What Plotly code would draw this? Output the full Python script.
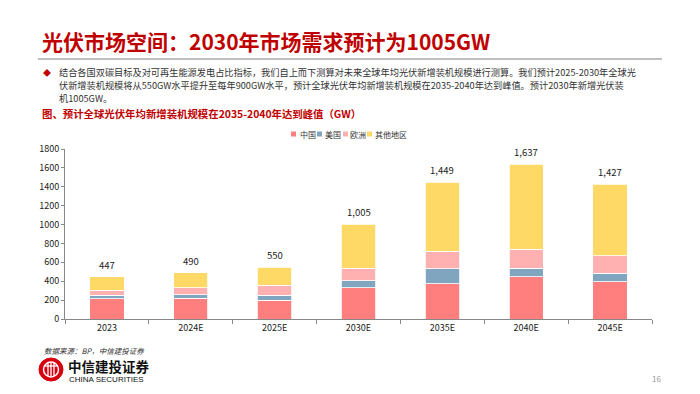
import plotly.graph_objects as go

categories = ["2023", "2024E", "2025E", "2030E", "2035E", "2040E", "2045E"]
china = [212, 220, 200, 330, 375, 450, 395]
usa = [42, 39, 54, 75, 155, 90, 90]
europe = [53, 74, 106, 130, 190, 200, 185]
others = [140, 157, 190, 470, 729, 897, 757]
totals = [447, 490, 550, 1005, 1449, 1637, 1427]
series_names = ["中国", "美国", "欧洲", "其他地区"]
colors = ["#FF7F7F", "#7FA5BF", "#FFB0B0", "#FFD966"]

FONT = "Noto Sans CJK SC"
W, H = 700, 394
L, R, T, B = 65, 48, 149, 75
PW, PH = W - L - R, H - T - B


def px(x):
    return (x - L) / PW


def py(y):
    return (H - B - y) / PH


fig = go.Figure()
for name, vals, col in zip(series_names, [china, usa, europe, others], colors):
    fig.add_trace(go.Bar(
        x=categories, y=vals, name=name, showlegend=False,
        marker=dict(color=col, line=dict(color="white", width=0.8)),
    ))

ann = []
shapes = []

# total labels above bars
for i, v in enumerate(totals):
    ann.append(dict(text=f"{v:,}", x=i, y=v, xref="x", yref="y",
                    xanchor="center", yanchor="bottom", yshift=3, showarrow=False,
                    font=dict(size=9.5, color="#222", family=FONT)))

# Title
ann.append(dict(text="<b>光伏市场空间：2030年市场需求预计为1005GW</b>",
                x=px(40), y=py(41), xref="paper", yref="paper",
                xanchor="left", yanchor="middle", showarrow=False,
                font=dict(size=21, color="#C00000", family=FONT)))
# separator
shapes.append(dict(type="line", xref="paper", yref="paper",
                   x0=px(38), x1=px(662), y0=py(59), y1=py(59),
                   line=dict(color="#BFBFBF", width=2)))
# bullet
ann.append(dict(text="◆", x=px(47), y=py(72), xref="paper", yref="paper",
                xanchor="center", yanchor="middle", showarrow=False,
                font=dict(size=8, color="#C00000", family=FONT)))
lines = [
    "结合各国双碳目标及对可再生能源发电占比指标，我们自上而下测算对未来全球年均光伏新增装机规模进行测算。我们预计2025-2030年全球光",
    "伏新增装机规模将从550GW水平提升至每年900GW水平，预计全球光伏年均新增装机规模在2035-2040年达到峰值。预计2030年新增光伏装",
    "机1005GW。",
]
for i, ln in enumerate(lines):
    ann.append(dict(text=ln, x=px(57), y=py(72 + i * 13), xref="paper", yref="paper",
                    xanchor="left", yanchor="middle", showarrow=False,
                    font=dict(size=9.2, color="#333", family=FONT)))
# chart title
ann.append(dict(text="<b>图、预计全球光伏年均新增装机规模在2035-2040年达到峰值（GW）</b>",
                x=px(40), y=py(113), xref="paper", yref="paper",
                xanchor="left", yanchor="middle", showarrow=False,
                font=dict(size=10.4, color="#C00000", family=FONT)))
# manual legend
leg_sq_x = [291, 317, 343, 367]
leg_tx_x = [298, 323, 348, 373]
for name, col, sx, tx in zip(series_names, colors, leg_sq_x, leg_tx_x):
    shapes.append(dict(type="rect", xref="paper", yref="paper",
                       x0=px(sx), x1=px(sx + 5), y0=py(136.5), y1=py(131.5),
                       fillcolor=col, line=dict(width=0)))
    ann.append(dict(text=name, x=px(tx), y=py(134), xref="paper", yref="paper",
                    xanchor="left", yanchor="middle", showarrow=False,
                    font=dict(size=8, color="#333", family=FONT)))
# source
ann.append(dict(text="<i>数据来源：BP，中信建投证券</i>", x=px(42), y=py(350),
                xref="paper", yref="paper", xanchor="left", yanchor="middle",
                showarrow=False, font=dict(size=7.5, color="#333", family=FONT)))
# logo
shapes.append(dict(type="circle", xref="paper", yref="paper",
                   x0=px(39), x1=px(63), y0=py(381), y1=py(358),
                   fillcolor="#D7000F", line=dict(color="#D7000F", width=1)))
shapes.append(dict(type="circle", xref="paper", yref="paper",
                   x0=px(43.5), x1=px(58.5), y0=py(377), y1=py(362),
                   fillcolor="rgba(0,0,0,0)", line=dict(color="white", width=1.5)))
for xx in [48, 51, 54]:
    shapes.append(dict(type="line", xref="paper", yref="paper",
                       x0=px(xx), x1=px(xx), y0=py(376), y1=py(363),
                       line=dict(color="white", width=1.3)))
shapes.append(dict(type="line", xref="paper", yref="paper",
                   x0=px(45), x1=px(57), y0=py(366), y1=py(366),
                   line=dict(color="white", width=1.3)))
ann.append(dict(text="<b>中信建投证券</b>", x=px(66), y=py(366), xref="paper", yref="paper",
                xanchor="left", yanchor="middle", showarrow=False,
                font=dict(size=13.5, color="#111", family=FONT)))
ann.append(dict(text="CHINA SECURITIES", x=px(67), y=py(379.5), xref="paper", yref="paper",
                xanchor="left", yanchor="middle", showarrow=False,
                font=dict(size=8, color="#111", family="Liberation Sans")))
# page number
ann.append(dict(text="16", x=px(657), y=py(378), xref="paper", yref="paper",
                xanchor="center", yanchor="middle", showarrow=False,
                font=dict(size=8, color="#999", family=FONT)))

fig.update_layout(
    width=W, height=H,
    margin=dict(l=L, r=R, t=T, b=B, pad=0),
    barmode="stack", bargap=0.59,
    plot_bgcolor="white", paper_bgcolor="white",
    font=dict(family=FONT, size=9, color="#222"),
    showlegend=False,
    xaxis=dict(type="category", showline=True, linecolor="#888", linewidth=1, ticks="outside",
               tickson="boundaries", ticklen=4, tickcolor="#888",
               tickfont=dict(size=9, color="#222"), showgrid=False),
    yaxis=dict(range=[0, 1800], dtick=200, showline=True, linecolor="#888",
               linewidth=1, ticks="outside", ticklen=3, tickcolor="#888",
               tickfont=dict(size=9, color="#222"), showgrid=False, zeroline=False),
    annotations=ann, shapes=shapes,
)

fig.write_html("out.html", config={"displayModeBar": False},
               post_script="document.body.style.margin='0';document.body.style.overflow='hidden';")
